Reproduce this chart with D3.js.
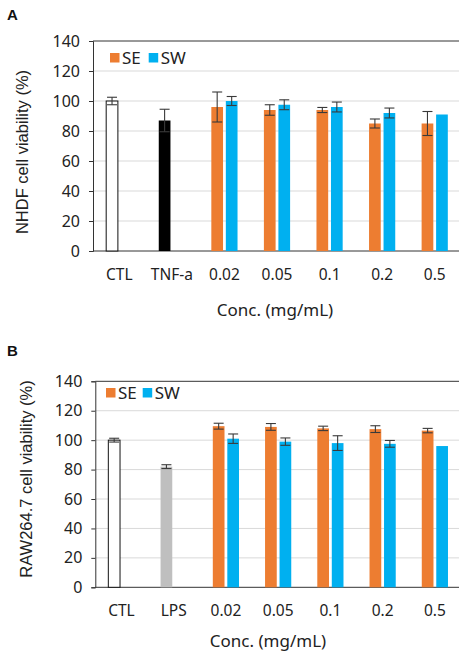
<!DOCTYPE html>
<html><head><meta charset="utf-8">
<script src="https://cdn.jsdelivr.net/npm/d3@7"></script>
<style>body{margin:0;background:#fff}svg{display:block}</style>
</head><body>
<svg id="c" width="459" height="654"></svg>
<script>
// ---- Data ----
const categoriesA = ["CTL","TNF-a","0.02","0.05","0.1","0.2","0.5"];
const seA    = [100, 87, 96, 94, 94, 85, 85];
const seErrA = [2.5, 7.5, 10, 3.5, 1.7, 3, 8];
const swA    = [null, null, 100, 97.5, 96, 92, 91];
const swErrA = [null, null, 3, 3.3, 3.3, 3.3, 0];

const categoriesB = ["CTL","LPS","0.02","0.05","0.1","0.2","0.5"];
const seB    = [100, 82, 109.5, 109, 108, 107.5, 106.5];
const seErrB = [1.3, 1.3, 2, 2.3, 1.5, 2.3, 1.5];
const swB    = [null, null, 101, 99, 98, 97.5, 96];
const swErrB = [null, null, 3.2, 2.5, 5, 2.3, 0];

const yTicks = [0,20,40,60,80,100,120,140];
const seriesNames = ["SE","SW"];
const seColor = "#ED7D31", swColor = "#00B0F0";

const svg = d3.select("#c");
const uiFont = "Noto Sans, sans-serif";

function panel(o){
  const g = svg.append("g");
  const x = d3.scaleBand().domain(o.cats).range([o.left, o.right]).padding(0);
  const y = d3.scaleLinear().domain([0,140]).range([o.bottom, o.top]);
  const bw = 11.7, gap = 2.8, off = bw/2 + gap/2;

  // gridlines
  g.selectAll(".grid").data(yTicks.filter(t=>t>0 && t<140)).join("line")
    .attr("x1", o.left).attr("x2", o.right)
    .attr("y1", d=>y(d)).attr("y2", d=>y(d))
    .attr("stroke", "#d9d9d9").attr("stroke-width", 1);

  // y axis
  const ya = g.append("g").attr("transform", `translate(${o.left},0)`)
    .call(d3.axisLeft(y).tickValues(yTicks).tickSize(4).tickPadding(9));
  ya.select(".domain").attr("stroke", "#333");
  ya.selectAll(".tick line").attr("stroke", "#333");
  ya.selectAll(".tick text").attr("font-family", uiFont).attr("font-size", 16).attr("fill", "#222");

  // top frame + baseline
  g.append("line").attr("x1", o.left).attr("x2", o.right).attr("y1", y(140)).attr("y2", y(140)).attr("stroke", "#333");
  g.append("line").attr("x1", o.left).attr("x2", o.right).attr("y1", y(0)).attr("y2", y(0)).attr("stroke", "#333");

  // x labels
  g.selectAll(".xl").data(o.cats).join("text")
    .attr("x", d=>x(d)+x.bandwidth()/2).attr("y", o.bottom + 28.5)
    .attr("text-anchor", "middle").attr("font-family", uiFont)
    .attr("font-size", 15.5).attr("fill", "#222").text(d=>d);

  g.append("text").attr("x", o.titleX).attr("y", o.bottom + o.titleDy)
    .attr("text-anchor", "middle").attr("font-family", uiFont)
    .attr("font-size", 17).attr("fill", "#222").text("Conc. (mg/mL)");

  // y title
  g.append("text").attr("transform", `translate(${o.ytx},${o.yty}) rotate(-90)`)
    .attr("text-anchor", "middle").attr("font-family", "Liberation Sans, Arial, sans-serif")
    .attr("font-size", 16.5).attr("fill", "#222").text(o.ytitle);

  // panel label
  g.append("text").attr("x", 7).attr("y", o.labelY).attr("font-family", "Liberation Sans, Arial, sans-serif")
    .attr("font-weight", "bold").attr("font-size", 15).attr("fill", "#111").text(o.label);

  // bars
  const fillSE = i => i===0 ? "#fff" : (i===1 ? o.ctrlColor : seColor);
  const rows = o.cats.map((c,i)=>({c, i, se:o.se[i], seErr:o.seErr[i], sw:o.sw[i], swErr:o.swErr[i]}));
  g.selectAll(".se").data(rows).join("rect")
    .attr("x", d=>x(d.c)+x.bandwidth()/2 - off - bw/2)
    .attr("width", bw)
    .attr("y", d=>y(d.se)).attr("height", d=>y(0)-y(d.se))
    .attr("fill", d=>fillSE(d.i))
    .attr("stroke", d=>d.i===0 ? "#111" : "none").attr("stroke-width", 1);
  g.selectAll(".sw").data(rows.filter(r=>r.sw!=null)).join("rect")
    .attr("x", d=>x(d.c)+x.bandwidth()/2 + off - bw/2)
    .attr("width", bw)
    .attr("y", d=>y(d.sw)).attr("height", d=>y(0)-y(d.sw))
    .attr("fill", swColor);

  // error bars
  const errs = [];
  rows.forEach(r=>{
    errs.push({cx: x(r.c)+x.bandwidth()/2 - off, v:r.se, e:r.seErr});
    if (r.sw!=null && r.swErr>0) errs.push({cx: x(r.c)+x.bandwidth()/2 + off, v:r.sw, e:r.swErr});
  });
  const eg = g.selectAll(".err").data(errs).join("g").attr("stroke", "#3a3a3a").attr("stroke-width", 1.1);
  eg.append("line").attr("x1", d=>d.cx).attr("x2", d=>d.cx).attr("y1", d=>y(d.v+d.e)).attr("y2", d=>y(d.v-d.e));
  eg.append("line").attr("x1", d=>d.cx-5).attr("x2", d=>d.cx+5).attr("y1", d=>y(d.v+d.e)).attr("y2", d=>y(d.v+d.e));
  eg.append("line").attr("x1", d=>d.cx-5).attr("x2", d=>d.cx+5).attr("y1", d=>y(d.v-d.e)).attr("y2", d=>y(d.v-d.e));

  // legend
  const lg = g.append("g").attr("transform", `translate(${o.legX},${o.legY})`);
  const colors = [seColor, swColor];
  seriesNames.forEach((n,i)=>{
    const lx = i*o.legStep;
    lg.append("rect").attr("x", lx).attr("y", -5).attr("width", 9.5).attr("height", 9.5).attr("fill", colors[i]);
    lg.append("text").attr("x", lx+12).attr("y", 6).attr("font-family", uiFont)
      .attr("font-size", 17).attr("fill", "#222").text(n);
  });
}

panel({cats:categoriesA, se:seA, seErr:seErrA, sw:swA, swErr:swErrA, ctrlColor:"#000",
  left:93, right:461, top:41, bottom:251, titleX:275, titleDy:65, ytx:28, yty:152, ytitle:"NHDF cell viability (%)",
  label:"A", labelY:20, legX:110, legY:58, legStep:38.7});
panel({cats:categoriesB, se:seB, seErr:seErrB, sw:swB, swErr:swErrB, ctrlColor:"#BFBFBF",
  left:95.3, right:461, top:381.3, bottom:587.3, titleX:268, titleDy:59.5, ytx:32, yty:479, ytitle:"RAW264.7 cell viability (%)",
  label:"B", labelY:356, legX:106, legY:393, legStep:36.7});
</script>
</body></html>
